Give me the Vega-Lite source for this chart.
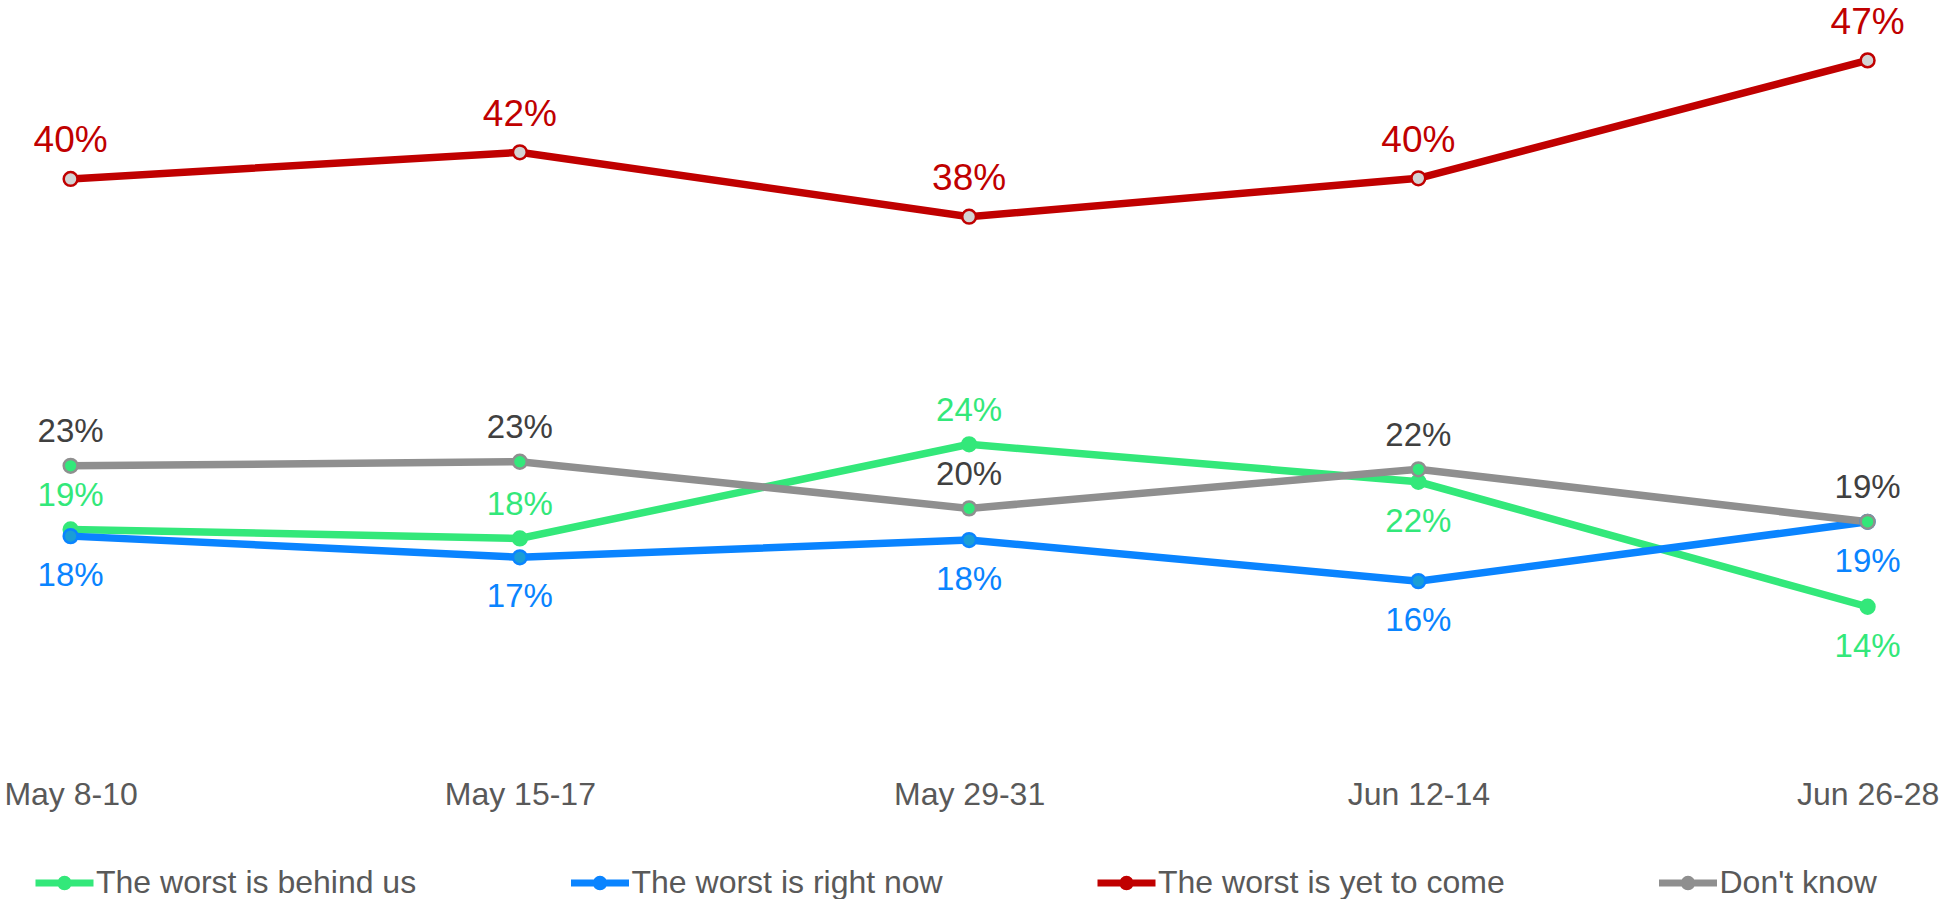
{
  "$schema": "https://vega.github.io/schema/vega-lite/v6.json",
  "width": 1797,
  "height": 739,
  "autosize": {"type": "none"},
  "padding": {"left": 70.6, "top": 16.2, "right": 73.4, "bottom": 143.8},
  "background": "white",
  "config": {"view": {"stroke": null}, "font": "Liberation Sans"},
  "data": {
    "values": [
      {"date": "May 8-10", "series": "The worst is behind us", "value": 18.75, "label": "19%"},
      {"date": "May 15-17", "series": "The worst is behind us", "value": 18.2, "label": "18%"},
      {"date": "May 29-31", "series": "The worst is behind us", "value": 23.93, "label": "24%"},
      {"date": "Jun 12-14", "series": "The worst is behind us", "value": 21.65, "label": "22%"},
      {"date": "Jun 26-28", "series": "The worst is behind us", "value": 14.04, "label": "14%"},
      {"date": "May 8-10", "series": "The worst is right now", "value": 18.34, "label": "18%"},
      {"date": "May 15-17", "series": "The worst is right now", "value": 17.05, "label": "17%"},
      {"date": "May 29-31", "series": "The worst is right now", "value": 18.1, "label": "18%"},
      {"date": "Jun 12-14", "series": "The worst is right now", "value": 15.6, "label": "16%"},
      {"date": "Jun 26-28", "series": "The worst is right now", "value": 19.21, "label": "19%"},
      {"date": "May 8-10", "series": "The worst is yet to come", "value": 40.09, "label": "40%"},
      {"date": "May 15-17", "series": "The worst is yet to come", "value": 41.71, "label": "42%"},
      {"date": "May 29-31", "series": "The worst is yet to come", "value": 37.79, "label": "38%"},
      {"date": "Jun 12-14", "series": "The worst is yet to come", "value": 40.13, "label": "40%"},
      {"date": "Jun 26-28", "series": "The worst is yet to come", "value": 47.31, "label": "47%"},
      {"date": "May 8-10", "series": "Don't know", "value": 22.62, "label": "23%"},
      {"date": "May 15-17", "series": "Don't know", "value": 22.87, "label": "23%"},
      {"date": "May 29-31", "series": "Don't know", "value": 20.03, "label": "20%"},
      {"date": "Jun 12-14", "series": "Don't know", "value": 22.41, "label": "22%"},
      {"date": "Jun 26-28", "series": "Don't know", "value": 19.21, "label": "19%"}
    ]
  },
  "encoding": {
    "x": {
      "field": "date",
      "type": "ordinal",
      "sort": ["May 8-10", "May 15-17", "May 29-31", "Jun 12-14", "Jun 26-28"],
      "scale": {"type": "point", "padding": 0},
      "axis": {"title": null, "domain": false, "ticks": false, "grid": false, "labelFontSize": 32, "labelColor": "#595959", "labelFont": "Liberation Sans", "labelPadding": 24, "labelAngle": 0}
    },
    "y": {"field": "value", "type": "quantitative", "scale": {"domain": [5, 50]}, "axis": null}
  },
  "layer": [
    {
      "mark": {"type": "line", "strokeWidth": 7.5},
      "encoding": {
        "color": {
          "field": "series",
          "type": "nominal",
          "scale": {
            "domain": ["The worst is behind us", "The worst is right now", "The worst is yet to come", "Don't know"],
            "range": ["#33E87A", "#0A84FF", "#C00000", "#8F8F8F"]
          },
          "legend": {
            "orient": "none",
            "legendX": -38.6,
            "legendY": 834,
            "direction": "horizontal",
            "columns": 4,
            "columnPadding": 139.5,
            "title": null,
            "labelFontSize": 32,
            "labelLimit": 0,
            "labelColor": "#595959",
            "labelFont": "Liberation Sans",
            "labelOffset": -1,
            "symbolType": "M-1,0L1,0M0.13,0A0.13,0.13 0 1,1 -0.13,0A0.13,0.13 0 1,1 0.13,0",
            "symbolSize": 3364,
            "symbolStrokeWidth": 7
          }
        }
      }
    },
    {
      "mark": {"type": "point", "filled": true, "size": 190, "strokeWidth": 2.5, "opacity": 1},
      "encoding": {
        "fill": {
          "condition": [
            {"test": "datum.series === 'The worst is right now'", "value": "#1A9ED6"},
            {"test": "datum.series === 'The worst is yet to come'", "value": "#D3D3D3"}
          ],
          "value": "#33E87A"
        },
        "stroke": {
          "condition": [
            {"test": "datum.series === 'The worst is right now'", "value": "#0A84FF"},
            {"test": "datum.series === 'The worst is yet to come'", "value": "#C00000"},
            {"test": "datum.series === \"Don't know\"", "value": "#8F8F8F"}
          ],
          "value": "#33E87A"
        }
      }
    },
    {
      "transform": [{"filter": "datum.series === \"Don't know\" || (datum.series === 'The worst is behind us' && datum.date !== 'Jun 12-14' && datum.date !== 'Jun 26-28')"}],
      "mark": {"type": "text", "fontSize": 33, "font": "Liberation Sans", "align": "center", "baseline": "alphabetic", "dy": -23.5},
      "encoding": {
        "text": {"field": "label"},
        "color": {
          "condition": {"test": "datum.series === 'The worst is behind us'", "value": "#33E87A"},
          "value": "#404040"
        }
      }
    },
    {
      "transform": [{"filter": "datum.series === 'The worst is right now' || (datum.series === 'The worst is behind us' && (datum.date === 'Jun 12-14' || datum.date === 'Jun 26-28'))"}],
      "mark": {"type": "text", "fontSize": 33, "font": "Liberation Sans", "align": "center", "baseline": "alphabetic", "dy": 50},
      "encoding": {
        "text": {"field": "label"},
        "color": {
          "condition": {"test": "datum.series === 'The worst is behind us'", "value": "#33E87A"},
          "value": "#0A84FF"
        }
      }
    },
    {
      "transform": [{"filter": "datum.series === 'The worst is yet to come'"}],
      "mark": {"type": "text", "fontSize": 37, "font": "Liberation Sans", "align": "center", "baseline": "alphabetic", "dy": -26.5, "color": "#C00000"},
      "encoding": {
        "text": {"field": "label"}
      }
    }
  ]
}
